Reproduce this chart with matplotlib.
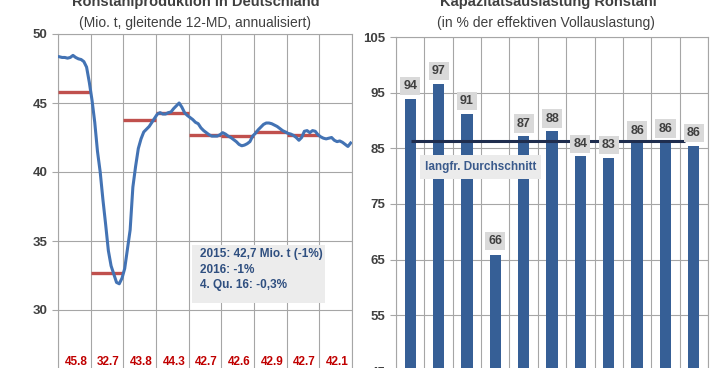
import numpy as np
import matplotlib.pyplot as plt
from matplotlib.patches import Rectangle

plt.rcParams['font.family'] = ['Liberation Sans', 'DejaVu Sans']

# Rohstahlproduktion, gleitende 12-MD, monatlich 2008-2016 (Mio. t)
produktion = [
    48.35, 48.3, 48.3, 48.25, 48.3, 48.45, 48.3, 48.2, 48.15, 48.0, 47.6, 46.5,
    45.2, 43.6, 41.5, 40.0, 38.0, 36.2, 34.3, 33.2, 32.6, 32.0, 31.9, 32.3,
    33.0, 34.4, 35.8, 38.9, 40.4, 41.7, 42.4, 42.9, 43.1, 43.3, 43.6, 43.9,
    44.2, 44.3, 44.2, 44.2, 44.3, 44.35, 44.6, 44.8, 45.0, 44.7, 44.3, 44.1,
    43.95, 43.8, 43.6, 43.5, 43.2, 43.0, 42.85, 42.7, 42.6, 42.6, 42.6, 42.7,
    42.85, 42.75, 42.6, 42.5, 42.35, 42.2, 42.0, 41.9, 41.95, 42.05, 42.2, 42.6,
    42.8, 43.05, 43.25, 43.45, 43.55, 43.55, 43.5, 43.4, 43.3, 43.15, 43.0, 42.9,
    42.8, 42.75, 42.65, 42.5, 42.3, 42.5, 42.95, 43.0, 42.85, 43.0, 42.95, 42.7,
    42.55, 42.45, 42.4, 42.45, 42.5, 42.3, 42.2, 42.25, 42.15, 42.0, 41.85, 42.1,
]
jahre = [2008, 2009, 2010, 2011, 2012, 2013, 2014, 2015, 2016]
jahresmittel = [45.8, 32.7, 43.8, 44.3, 42.7, 42.6, 42.9, 42.7, 42.1]
jahres_labels = ['45.8', '32.7', '43.8', '44.3', '42.7', '42.6', '42.9', '42.7', '42.1']
info_text = ['2015: 42,7 Mio. t (-1%)', '2016: -1%', '4. Qu. 16: -0,3%']

# Kapazitaetsauslastung (%)
auslastung = [93.9, 96.6, 91.2, 65.9, 87.2, 88.1, 83.6, 83.3, 85.95, 86.3, 85.5]
auslastung_labels = ['94', '97', '91', '66', '87', '88', '84', '83', '86', '86', '86']
durchschnitt = 86.3

grid_c = '#a6a6a6'
txt_c = '#404040'
blau_txt = '#2f4f80'

fig = plt.figure(figsize=(7.26, 3.68), dpi=100)

# ---------- linkes Diagramm ----------
ax1 = fig.add_axes([58/726, 1-379/368, (352-58)/726, (379-34)/368])
x = 2008 + (np.arange(len(produktion)) + 0.5) / 12
ax1.set_xlim(2008, 2017)
ax1.set_ylim(25, 50)
ax1.set_yticks([30, 35, 40, 45, 50])
ax1.set_xticks(range(2008, 2018))
ax1.set_xticklabels([])
ax1.grid(True, color=grid_c, lw=0.8)
ax1.set_axisbelow(True)
ax1.tick_params(axis='y', colors=grid_c, labelcolor=txt_c, length=4, labelsize=9.5)
ax1.tick_params(axis='x', length=0)
for t in ax1.get_yticklabels():
    t.set_fontweight('bold')
for s in ax1.spines.values():
    s.set_color(grid_c)
    s.set_linewidth(0.8)

for j, v in zip(jahre[:-1], jahresmittel[:-1]):
    ax1.hlines(v, j, j + 1, color='#c0504d', lw=2.4, zorder=3)
ax1.plot(x, produktion, color='#4373b4', lw=2.2, zorder=4)

for j, lab in zip(jahre, jahres_labels):
    ax1.text(j + 0.55, 26.2, lab, color='#c00000', fontsize=8.5, fontweight='bold',
             ha='center', va='center')

ax1.add_patch(Rectangle((2012.1, 30.5), 4.07, 4.2, facecolor='#ececec',
                        edgecolor='none', zorder=5))
for i, line in enumerate(info_text):
    ax1.text(2012.35, 34.05 - i * 1.13, line, color=blau_txt, fontsize=8.5,
             fontweight='bold', ha='left', va='center', zorder=6)

# ---------- rechtes Diagramm ----------
ax2 = fig.add_axes([396/726, 1-371/368, (708-396)/726, (371-37)/368])
pos = np.arange(len(auslastung))
ax2.bar(pos, auslastung, width=0.4, color='#365f96', zorder=2)
ax2.set_xlim(-0.5, len(auslastung) - 0.5)
ax2.set_ylim(45, 105)
ax2.set_yticks([45, 55, 65, 75, 85, 95, 105])
ax2.set_xticks(np.arange(-0.5, len(auslastung)))
ax2.set_xticklabels([])
ax2.grid(True, color=grid_c, lw=0.8)
ax2.set_axisbelow(True)
ax2.tick_params(axis='y', colors=grid_c, labelcolor=txt_c, length=4, labelsize=9.5)
ax2.tick_params(axis='x', length=0)
for t in ax2.get_yticklabels():
    t.set_fontweight('bold')
for s in ax2.spines.values():
    s.set_color(grid_c)
    s.set_linewidth(0.8)

ax2.hlines(durchschnitt, 0.03, 9.68, color='#1f2d4e', lw=2.2, zorder=3)

for p, v, lab in zip(pos, auslastung, auslastung_labels):
    off = 10 if v < 70 else 9
    ax2.annotate(lab, (p, v), xytext=(0, off), textcoords='offset points',
                 ha='center', va='center', fontsize=9, fontweight='bold', color=txt_c,
                 bbox=dict(boxstyle='square,pad=0.25', fc='#d9d9d9', ec='none'),
                 zorder=5)

ax2.add_patch(Rectangle((0.345, 79.5), 4.265, 4.3, facecolor='#ebebeb',
                        edgecolor='none', zorder=4))
ax2.text(2.48, 81.65, 'langfr. Durchschnitt', color='#3a5a8c', fontsize=8.5,
         fontweight='bold', ha='center', va='center', zorder=5)

# ---------- Titel ----------
fig.text(196/726, 1-6/368, 'Rohstahlproduktion in Deutschland', ha='center',
         va='baseline', fontsize=10.5, fontweight='bold', color=txt_c)
fig.text(195/726, 1-27/368, '(Mio. t, gleitende 12-MD, annualisiert)', ha='center',
         va='baseline', fontsize=10, color=txt_c)
fig.text(548/726, 1-6/368, 'Kapazitätsauslastung Rohstahl', ha='center',
         va='baseline', fontsize=10.5, fontweight='bold', color=txt_c)
fig.text(546/726, 1-27/368, '(in % der effektiven Vollauslastung)', ha='center',
         va='baseline', fontsize=10, color=txt_c)

fig.savefig('out.png', dpi=100)
